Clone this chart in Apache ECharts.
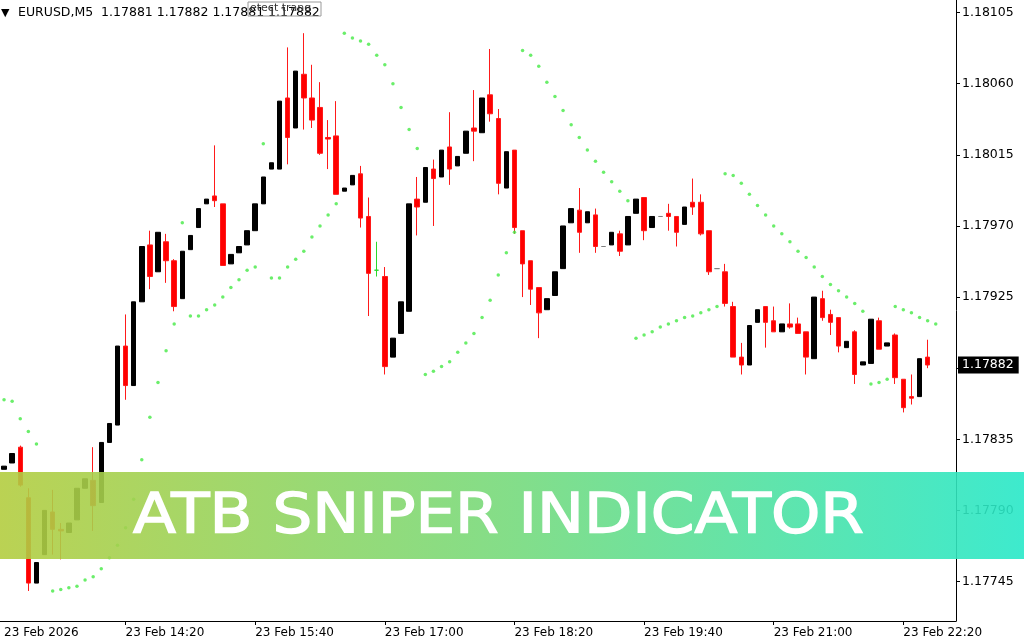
<!DOCTYPE html>
<html><head><meta charset="utf-8">
<script src="https://cdn.jsdelivr.net/npm/echarts@6/dist/echarts.min.js"></script>
<style>html,body{margin:0;padding:0;background:#fff}#c{width:1024px;height:640px}</style>
</head><body><div id="c"></div>
<script>
const categories = ['13:05','13:10','13:15','13:20','13:25','13:30','13:35','13:40','13:45','13:50','13:55',
'14:00','14:05','14:10','14:15','14:20','14:25','14:30','14:35','14:40','14:45','14:50','14:55',
'15:00','15:05','15:10','15:15','15:20','15:25','15:30','15:35','15:40','15:45','15:50','15:55',
'16:00','16:05','16:10','16:15','16:20','16:25','16:30','16:35','16:40','16:45','16:50','16:55',
'17:00','17:05','17:10','17:15','17:20','17:25','17:30','17:35','17:40','17:45','17:50','17:55',
'18:00','18:05','18:10','18:15','18:20','18:25','18:30','18:35','18:40','18:45','18:50','18:55',
'19:00','19:05','19:10','19:15','19:20','19:25','19:30','19:35','19:40','19:45','19:50','19:55',
'20:00','20:05','20:10','20:15','20:20','20:25','20:30','20:35','20:40','20:45','20:50','20:55',
'21:00','21:05','21:10','21:15','21:20','21:25','21:30','21:35','21:40','21:45','21:50','21:55',
'22:00','22:05','22:10','22:15','22:20','22:25','22:30','22:35','22:40','22:45','22:50'];

const opens = [1.17816,1.17820,1.17830,1.17798,1.17744,1.17762,1.17789,1.17778,1.17776,1.17784,
1.17804,1.17809,1.17795,1.17833,1.17844,1.17894,1.17869,1.17922,1.17958,1.17941,
1.17960,1.17948,1.17924,1.17955,1.17969,1.17984,1.17989,1.17984,1.17946,1.17953,
1.17958,1.17967,1.17984,1.18006,1.18006,1.18051,1.18032,1.18066,1.18051,1.18045,
1.18026,1.18027,1.17992,1.17996,1.18003,1.17976,1.17942,1.17938,1.17887,1.17902,
1.17916,1.17987,1.17985,1.18006,1.18001,1.18020,1.18008,1.18016,1.18032,1.18029,
1.18053,1.18038,1.17994,1.18018,1.17967,1.17948,1.17931,1.17917,1.17926,1.17943,
1.17972,1.17980,1.17972,1.17977,1.17957,1.17958,1.17965,1.17958,1.17978,1.17988,
1.17969,1.17976,1.17978,1.17976,1.17971,1.17985,1.17985,1.17967,1.17943,1.17941,
1.17919,1.17887,1.17882,1.17909,1.17919,1.17910,1.17903,1.17908,1.17908,1.17903,
1.17886,1.17924,1.17914,1.17912,1.17893,1.17903,1.17882,1.17883,1.17910,1.17894,
1.17901,1.17873,1.17862,1.17862,1.17887];
const closes = [1.17818,1.17826,1.17806,1.17744,1.17757,1.17790,1.17778,1.17777,1.17782,1.17804,
1.17810,1.17793,1.17833,1.17845,1.17894,1.17869,1.17922,1.17957,1.17938,1.17966,
1.17948,1.17919,1.17954,1.17964,1.17981,1.17987,1.17986,1.17945,1.17952,1.17957,
1.17967,1.17984,1.18001,1.18010,1.18049,1.18026,1.18068,1.18051,1.18037,1.18016,
1.18025,1.17990,1.17994,1.18002,1.17975,1.17940,1.17942,1.17881,1.17899,1.17922,
1.17984,1.17982,1.18007,1.18000,1.18018,1.18006,1.18014,1.18030,1.18030,1.18051,
1.18041,1.17997,1.18017,1.17969,1.17946,1.17930,1.17915,1.17924,1.17941,1.17970,
1.17981,1.17966,1.17979,1.17957,1.17957,1.17966,1.17954,1.17976,1.17987,1.17967,
1.17976,1.17976,1.17976,1.17966,1.17982,1.17982,1.17965,1.17941,1.17943,1.17921,
1.17887,1.17882,1.17907,1.17917,1.17909,1.17903,1.17908,1.17906,1.17902,1.17887,
1.17925,1.17912,1.17909,1.17894,1.17897,1.17876,1.17884,1.17911,1.17892,1.17896,
1.17874,1.17855,1.17861,1.17886,1.17882];
const lows = [1.17816,1.17820,1.17805,1.17739,1.17744,1.17762,1.17762,1.17759,1.17776,1.17784,
1.17804,1.17777,1.17795,1.17833,1.17844,1.17860,1.17869,1.17922,1.17930,1.17941,
1.17934,1.17916,1.17924,1.17955,1.17969,1.17984,1.17982,1.17945,1.17946,1.17953,
1.17958,1.17967,1.17984,1.18006,1.18006,1.18009,1.18032,1.18031,1.18032,1.18015,
1.18006,1.17990,1.17992,1.17996,1.17969,1.17913,1.17938,1.17876,1.17887,1.17902,
1.17916,1.17964,1.17985,1.17970,1.18001,1.17996,1.18008,1.18016,1.18011,1.18029,
1.18036,1.17990,1.17994,1.17965,1.17925,1.17920,1.17899,1.17917,1.17926,1.17943,
1.17972,1.17953,1.17972,1.17953,1.17957,1.17958,1.17951,1.17958,1.17978,1.17961,
1.17969,1.17976,1.17967,1.17957,1.17971,1.17977,1.17964,1.17939,1.17943,1.17919,
1.17887,1.17876,1.17882,1.17909,1.17893,1.17903,1.17903,1.17905,1.17902,1.17876,
1.17886,1.17910,1.17901,1.17890,1.17893,1.17870,1.17882,1.17883,1.17892,1.17894,
1.17870,1.17852,1.17857,1.17862,1.17880];
const highs = [1.17818,1.17826,1.17831,1.17804,1.17757,1.17790,1.17803,1.17782,1.17782,1.17804,
1.17810,1.17830,1.17833,1.17845,1.17894,1.17914,1.17922,1.17957,1.17967,1.17966,
1.17965,1.17949,1.17954,1.17964,1.17981,1.17987,1.18021,1.17984,1.17952,1.17957,
1.17967,1.17984,1.18001,1.18010,1.18049,1.18083,1.18068,1.18092,1.18072,1.18061,
1.18037,1.18049,1.17994,1.18002,1.18008,1.17988,1.17960,1.17944,1.17899,1.17922,
1.17984,1.18001,1.18007,1.18012,1.18018,1.18042,1.18014,1.18030,1.18056,1.18051,
1.18082,1.18044,1.18017,1.18018,1.17967,1.17948,1.17931,1.17924,1.17941,1.17970,
1.17981,1.17994,1.17979,1.17981,1.17957,1.17966,1.17967,1.17976,1.17987,1.17988,
1.17976,1.17976,1.17984,1.17976,1.17982,1.18000,1.17990,1.17967,1.17943,1.17946,
1.17922,1.17896,1.17907,1.17917,1.17919,1.17919,1.17908,1.17921,1.17912,1.17903,
1.17925,1.17929,1.17917,1.17912,1.17897,1.17904,1.17884,1.17911,1.17912,1.17896,
1.17902,1.17873,1.17876,1.17886,1.17898];
const sar = [1.17860,1.17859,1.17848,1.17840,1.17832,'-',1.17739,1.17740,1.17741,1.17742,
1.17746,1.17748,1.17753,1.17760,1.17768,1.17779,1.17797,1.17822,1.17849,1.17871,
1.17891,1.17908,1.17972,1.17913,1.17913,1.17917,1.17920,1.17925,1.17931,1.17936,
1.17942,1.17944,1.18022,1.17937,1.17937,1.17944,1.17949,1.17954,1.17963,1.17970,
1.17977,1.17984,1.18092,1.18089,1.18087,1.18085,1.18078,1.18072,1.18060,1.18045,
1.18031,1.18019,1.17876,1.17878,1.17881,1.17884,1.17890,1.17896,1.17902,1.17912,
1.17923,1.17939,1.17953,1.17966,1.18081,1.18078,1.18071,1.18061,1.18052,1.18043,
1.18034,1.18026,1.18018,1.18011,1.18004,1.17998,1.17992,1.17986,1.17899,1.17901,
1.17903,1.17906,1.17908,1.17910,1.17912,1.17913,1.17915,1.17917,1.17919,1.18003,
1.18002,1.17997,1.17990,1.17983,1.17977,1.17970,1.17965,1.17960,1.17954,1.17950,
1.17944,1.17938,1.17933,1.17929,1.17925,1.17921,1.17916,1.17870,1.17871,1.17873,
1.17919,1.17917,1.17915,1.17912,1.17910,1.17908];

const yTicks = [1.17745,1.17790,1.17835,1.17880,1.17925,1.17970,1.18015,1.18060,1.18105];
const yLabelValues = [1.17745,1.17790,1.17835,1.17925,1.17970,1.18015,1.18060,1.18105];
const xTickIndex = [0,15,31,47,63,79,95,111];
const xTickLabels = ['23 Feb 2026','23 Feb 14:20','23 Feb 15:40','23 Feb 17:00','23 Feb 18:20','23 Feb 19:40','23 Feb 21:00','23 Feb 22:20'];
const headerText = 'EURUSD,M5  1.17881 1.17882 1.17881 1.17882';
const bannerText = 'ATB SNIPER INDICATOR';
const greenDoji = [46];
const lastPrice = closes[closes.length - 1];

const FONT = 'DejaVu Sans';
const candleData = opens.map((o, i) => {
  const d = { value: [o, closes[i], lows[i], highs[i]] };
  if (greenDoji.includes(i)) d.itemStyle = { borderColorDoji: '#2ad82a' };
  return d;
});

const chart = echarts.init(document.getElementById('c'), null, { renderer: 'canvas' });
chart.setOption({
  animation: false,
  backgroundColor: '#ffffff',
  grid: { left: 0, right: 68, top: 0, bottom: 19, containLabel: false },
  xAxis: {
    type: 'category',
    data: categories,
    boundaryGap: true,
    axisLine: { show: true, lineStyle: { color: '#000', width: 1 } },
    axisTick: { show: true, alignWithLabel: true, length: 4, lineStyle: { color: '#000' },
      interval: (idx) => xTickIndex.includes(idx) && idx > 0 },
    axisLabel: { show: true, interval: (idx) => xTickIndex.includes(idx), align: 'left',
      color: '#000', fontFamily: FONT, fontSize: 12, margin: 6,
      formatter: (v, idx) => xTickLabels[xTickIndex.indexOf(idx)] || '' },
    splitLine: { show: false }
  },
  yAxis: {
    type: 'value',
    position: 'right',
    min: 1.17720,
    max: 1.18113,
    scale: true,
    axisLine: { show: true, lineStyle: { color: '#000', width: 1 } },
    axisTick: { show: true, length: 4, lineStyle: { color: '#000' }, customValues: yTicks },
    axisLabel: { show: true, color: '#000', fontFamily: FONT, fontSize: 12.5, margin: 6,
      customValues: yLabelValues, formatter: (v) => Number(v).toFixed(5) },
    splitLine: { show: false },
    axisPointer: {
      show: true, type: 'line', value: lastPrice, status: 'show', triggerTooltip: false,
      lineStyle: { color: 'rgba(0,0,0,0)', width: 0 },
      label: { show: true, color: '#fff', backgroundColor: '#000', borderRadius: 0,
        fontFamily: FONT, fontSize: 12.5, padding: [2, 5, 2, 4], margin: 2,
        formatter: (p) => Number(p.value).toFixed(5) },
      handle: { show: false }
    }
  },
  axisPointer: { triggerOn: 'none' },
  series: [
    {
      type: 'candlestick',
      data: candleData,
      barWidth: 5,
      itemStyle: {
        color: '#000000', color0: '#ff0000',
        borderColor: '#000000', borderColor0: '#ff1a1a', borderColorDoji: '#808080',
        borderWidth: 1
      },
      z: 2
    },
    {
      type: 'scatter',
      data: sar,
      symbol: 'circle',
      symbolSize: 3.5,
      itemStyle: { color: '#45ea45' },
      z: 3
    }
  ],
  graphic: [
    { type: 'rect', z: 100, shape: { x: 0, y: 472, width: 1024, height: 87 },
      style: { opacity: 0.9, fill: new echarts.graphic.LinearGradient(0, 0, 1, 0, [
        { offset: 0, color: '#b3cd40' }, { offset: 0.5, color: '#76da7c' }, { offset: 1, color: '#28e8c8' }]) } },
    { type: 'text', z: 101, x: 498.5, y: 517, scaleX: 1.12, style: { text: bannerText, fill: '#ffffff',
      stroke: '#ffffff', lineWidth: 1.4,
      font: '56px "DejaVu Sans"', textAlign: 'center', textVerticalAlign: 'middle' } },
    { type: 'text', z: 50, x: 1, y: 13, style: { text: '▼', fill: '#000', font: '11px "DejaVu Sans"',
      textVerticalAlign: 'middle' } },
    { type: 'text', z: 50, x: 18, y: 13, style: { text: headerText, fill: '#000', font: '12.5px "DejaVu Sans"',
      textVerticalAlign: 'middle' } },
    { type: 'rect', z: 51, shape: { x: 248, y: 2, width: 73, height: 14 },
      style: { fill: 'rgba(255,255,255,0)', stroke: '#9a9a9a', lineWidth: 1 } },
    { type: 'text', z: 52, x: 250, y: 8, style: { text: 'etect trang', fill: '#333', font: '11px "DejaVu Sans"',
      textVerticalAlign: 'middle' } }
  ]
});
</script></body></html>
